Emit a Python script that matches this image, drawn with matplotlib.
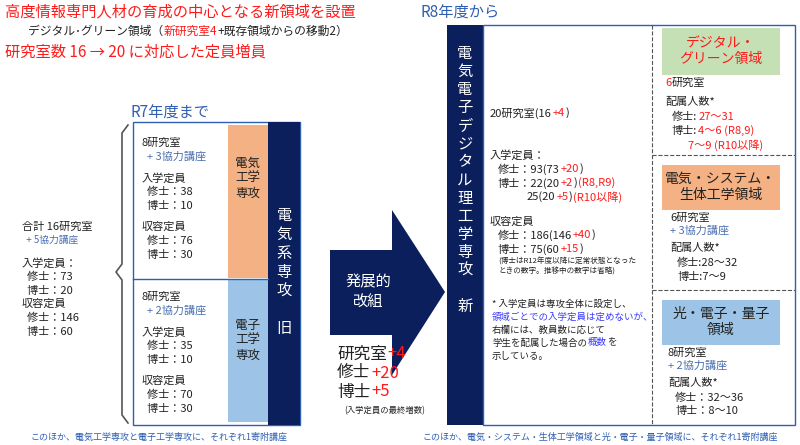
import matplotlib
matplotlib.use("Agg")
import matplotlib.pyplot as plt
import numpy as np
from matplotlib.patches import Rectangle, Polygon
plt.rcParams['font.family'] = ['Noto Sans CJK JP', 'DejaVu Sans']

RED = '#ff1a1a'; NAVY = '#0b1f5c'; BLUE = '#2f5fb3'; SLATE = '#4a6fb0'
ORANGE = '#f4b183'; LBLUE = '#9dc3e6'; GREEN = '#c5e0b4'; TXT = '#222222'

# data
labs_old = [8, 8]
assoc_old = [3, 2]
master_old = [38, 35]; doctor_old = [10, 10]
cap_master_old = [76, 70]; cap_doctor_old = [30, 30]
total_labs, total_assoc = 16, 5
total_master, total_doctor, cap_master, cap_doctor = 73, 20, 146, 60
increase = {'研究室': 4, '修士': 20, '博士': 5}

fig = plt.figure(figsize=(8, 4.45), dpi=100)
ax = fig.add_axes([0, 0, 1, 1])
ax.set_xlim(0, 800); ax.set_ylim(445, 0); ax.axis('off')

def T(x, y, s, c=TXT, fs=8, **kw):
    return ax.text(x, y, s, color=c, fontsize=fs, va='center', **kw)

def multi(x, y, parts, fs=8):
    prev = None
    for s, c in parts:
        if prev is None:
            prev = T(x, y, s, c, fs)
        else:
            prev = ax.annotate(s, xy=(1, 0.5), xycoords=prev, xytext=(0.5, 0),
                               textcoords='offset points', color=c, fontsize=fs,
                               va='center', ha='left')

# titles
T(5, 12, '高度情報専門人材の育成の中心となる新領域を設置', RED, 11)
multi(28, 31, [('デジタル･グリーン領域（', TXT), ('新研究室4', RED), ('+既存領域からの移動2）', TXT)], 8.5)
T(5, 52, f'研究室数 {total_labs} → {total_labs+increase["研究室"]} に対応した定員増員', RED, 11)
T(130, 112, 'R7年度まで', BLUE, 11)
T(420, 12, 'R8年度から', BLUE, 11)

# left box
ax.add_patch(Rectangle((133, 122), 167, 303, fill=False, ec=BLUE, lw=1))
ax.add_patch(Rectangle((228, 125), 40, 153, fc=ORANGE, ec='none'))
ax.add_patch(Rectangle((228, 280), 40, 142, fc=LBLUE, ec='none'))
ax.add_patch(Rectangle((268, 122), 32, 303, fc=NAVY, ec='none'))
ax.plot([133, 268], [279, 279], color=BLUE, lw=1)
T(248, 178, '電気\n工学\n専攻', TXT, 9, ha='center', linespacing=1.2)
T(248, 340, '電子\n工学\n専攻', TXT, 9, ha='center', linespacing=1.2)
T(284, 272, '\n'.join('電気系専攻') + '\n\n旧', 'white', 11, ha='center', linespacing=1.15)
for i, y0 in enumerate([143, 297]):
    T(142, y0, f'{labs_old[i]}研究室')
    T(142, y0+14, f'  + {assoc_old[i]}協力講座', SLATE)
    T(142, y0+35, '入学定員')
    T(142, y0+49, f'  修士：{master_old[i]}')
    T(142, y0+63, f'  博士：{doctor_old[i]}')
    T(142, y0+84, '収容定員')
    T(142, y0+98, f'  修士：{cap_master_old[i]}')
    T(142, y0+112, f'  博士：{cap_doctor_old[i]}')

# brace (thin)
t = np.linspace(0, 1, 20)
bx, top, mid, bot = 122, 125, 272, 423
def arc(x0, y0, x1, y1):
    th = np.linspace(0, np.pi/2, 15)
    return x0 + (x1-x0)*(1-np.cos(th)), y0 + (y1-y0)*np.sin(th)
xs, ys = [], []
for (a, b, c, d) in [(bx+6, top, bx, top+8), (bx, mid-8, bx-6, mid), (bx-6, mid, bx, mid+8), (bx, bot-8, bx+6, bot)]:
    pass
ax.plot([bx+6, bx, bx, bx-6, bx, bx, bx+6], [top, top+8, mid-8, mid, mid+8, bot-8, bot], color='#555555', lw=1.2)

T(22, 227, f'合計 {total_labs}研究室')
T(22, 240, f'  + {total_assoc}協力講座', SLATE, 7)
T(22, 263, '入学定員：')
T(22, 277, f'  修士：{total_master}')
T(22, 291, f'  博士：{total_doctor}')
T(22, 304, '収容定員')
T(22, 318, f'  修士：{cap_master}')
T(22, 332, f'  博士：{cap_doctor}')

# arrow
ax.add_patch(Polygon([(330, 250), (392, 250), (392, 210), (445, 292), (392, 375),
                      (392, 335), (330, 335)], fc=NAVY, ec='none'))
T(368, 292, '発展的\n改組', 'white', 11, ha='center', linespacing=1.3)
for i, (k, v) in enumerate(increase.items()):
    multi(337, 354 + 19*i, [(k, TXT), (f'+{v}', RED)], 12)
T(385, 411, '(入学定員の最終増数)', TXT, 6, ha='center')

# right
ax.add_patch(Rectangle((447, 25), 36, 400, fc=NAVY, ec='none'))
T(465, 180, '\n'.join('電気電子デジタル理工学専攻') + '\n\n新', 'white', 11, ha='center', linespacing=1.08)
ax.add_patch(Rectangle((483, 25), 312, 400, fill=False, ec=BLUE, lw=1))
ax.plot([652, 652], [25, 425], color='#555555', lw=0.8, ls='--')
for y in (155, 290):
    ax.plot([652, 795], [y, y], color='#555555', lw=0.8, ls='--')

multi(490, 113, [('20研究室(16', TXT), ('+4', RED), (')', TXT)])
T(490, 155, '入学定員：')
multi(498, 169, [('修士：93(73', TXT), ('+20', RED), (')', TXT)])
multi(498, 183, [('博士：22(20', TXT), ('+2', RED), (')', TXT), ('(R8,R9)', RED)])
multi(527, 197, [('25(20', TXT), ('+5', RED), (')', TXT), ('(R10以降)', RED)])
T(490, 222, '収容定員')
multi(498, 235, [('修士：186(146', TXT), ('+40', RED), (')', TXT)])
multi(498, 249, [('博士：75(60', TXT), ('+15', RED), (')', TXT)])
T(498, 266, '(博士はR12年度以降に定常状態となった\nときの数字。推移中の数字は省略)', TXT, 5.5, linespacing=1.2)
T(492, 304, '* 入学定員は専攻全体に設定し、', TXT, 6.8)
T(492, 317, '領域ごとでの入学定員は定めないが、', '#3a3aff', 6.8)
T(492, 330, '右欄には、教員数に応じて', TXT, 6.8)
multi(492, 343, [('学生を配属した場合の', TXT), ('概数', '#3a3aff'), ('を', TXT)], 6.8)
T(492, 356, '示している。', TXT, 6.8)

ax.add_patch(Rectangle((662, 28), 118, 47, fc=GREEN, ec='none'))
T(721, 51, 'デジタル・\nグリーン領域', RED, 10, ha='center', linespacing=1.2)
multi(665, 83, [('6', RED), ('研究室', TXT)])
T(665, 102, '配属人数*')
multi(672, 117, [('修士:', TXT), ('27～31', RED)])
multi(672, 131, [('博士:', TXT), ('4～6 (R8,9)', RED)])
T(688, 145, '7～9 (R10以降)', RED)

ax.add_patch(Rectangle((662, 165), 118, 45, fc=ORANGE, ec='none'))
T(721, 187, '電気・システム・\n生体工学領域', TXT, 10, ha='center', linespacing=1.2)
T(670, 218, '6研究室')
T(670, 231, '+ 3協力講座', SLATE)
T(670, 248, '配属人数*')
T(677, 263, '修士:28～32')
T(677, 277, '博士:7～9')

ax.add_patch(Rectangle((662, 300), 118, 45, fc=LBLUE, ec='none'))
T(721, 322, '光・電子・量子\n領域', TXT, 10, ha='center', linespacing=1.2)
T(668, 353, '8研究室')
T(668, 366, '+ 2協力講座', SLATE)
T(668, 383, '配属人数*')
T(675, 398, '修士：32～36')
T(675, 411, '博士：8～10')

T(30, 437, 'このほか、電気工学専攻と電子工学専攻に、それぞれ1寄附講座', BLUE, 6.5)
T(422, 437, 'このほか、電気・システム・生体工学領域と光・電子・量子領域に、それぞれ1寄附講座', BLUE, 6.5)

fig.savefig('out.png', dpi=100)
